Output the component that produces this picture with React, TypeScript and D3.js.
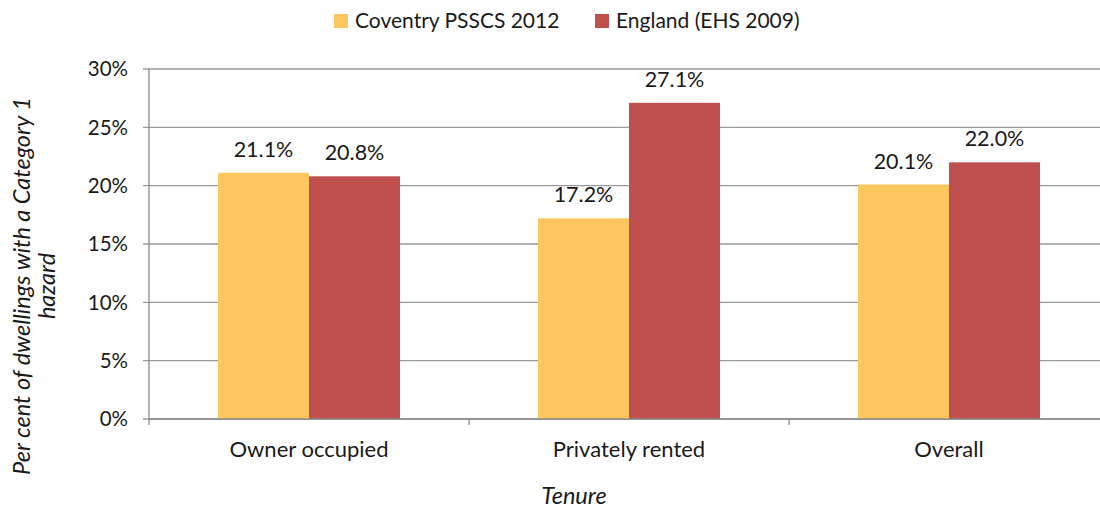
import React from "react";
import * as d3 from "d3";

const categories = ["Owner occupied", "Privately rented", "Overall"];
const seriesNames = ["Coventry PSSCS 2012", "England (EHS 2009)"];
const coventry = [21.1, 17.2, 20.1];
const england = [20.8, 27.1, 22.0];
const yTicks = [0, 5, 10, 15, 20, 25, 30];
const colors = ["#FDC65F", "#C0504D"];

const W = 1100;
const H = 509;
const left = 149;
const right = 1109;
const top = 69;
const bottom = 419;
const font = "Lato, 'Open Sans', sans-serif";
const textColor = "#1a1a1a";

export default function App() {
  const x = d3.scaleBand<string>().domain(categories).range([left, right]).paddingInner(0).paddingOuter(0);
  const y = d3.scaleLinear().domain([0, 30]).range([bottom, top]);
  const series = [coventry, england];
  const barW = 91;
  return (
    <div style={{ position: "absolute", left: 0, top: 0 }}>
      <svg width={W} height={H} style={{ display: "block", background: "#fff" }}>
        {yTicks.map((t) => (
          <line key={"g" + t} x1={left - 6} x2={right} y1={y(t)} y2={y(t)} stroke="#9a9a9a" strokeWidth={1.3} />
        ))}
        <line x1={left} x2={left} y1={top} y2={bottom} stroke="#8a8a8a" strokeWidth={1.3} />
        {series.map((vals, si) =>
          categories.map((c, ci) => {
            const cx = (x(c) as number) + x.bandwidth() / 2;
            const bx = cx - barW + si * barW;
            return (
              <rect key={si + "-" + ci} x={bx} y={y(vals[ci])} width={barW} height={y(0) - y(vals[ci])} fill={colors[si]} />
            );
          })
        )}
        <line x1={left} x2={right} y1={bottom} y2={bottom} stroke="#8a8a8a" strokeWidth={1.3} />
        {categories.map((c, ci) => (
          <line key={"xt" + ci} x1={x(c) as number} x2={x(c) as number} y1={bottom} y2={bottom + 6} stroke="#8a8a8a" strokeWidth={1.3} />
        ))}
        {series.map((vals, si) =>
          categories.map((c, ci) => {
            const cx = (x(c) as number) + x.bandwidth() / 2;
            const lx = cx - barW / 2 + si * barW;
            return (
              <text key={"v" + si + ci} x={lx} y={y(vals[ci]) - 16} textAnchor="middle" fontFamily={font} fontSize={21.5} fill={textColor}>
                {vals[ci].toFixed(1) + "%"}
              </text>
            );
          })
        )}
        {yTicks.map((t) => (
          <text key={"yl" + t} x={128} y={y(t)} dy="0.35em" textAnchor="end" fontFamily={font} fontSize={20.5} fill={textColor}>
            {t + "%"}
          </text>
        ))}
        {categories.map((c) => (
          <text key={"cl" + c} x={(x(c) as number) + x.bandwidth() / 2} y={457} textAnchor="middle" fontFamily={font} fontSize={22} fill={textColor}>
            {c}
          </text>
        ))}
        <text x={574} y={504} textAnchor="middle" fontFamily={font} fontSize={23.5} fontStyle="italic" fill={textColor}>
          Tenure
        </text>
        <g transform="translate(30,286) rotate(-90)">
          <text x={0} y={0} textAnchor="middle" fontFamily={font} fontSize={23.5} fontStyle="italic" fill={textColor}>
            Per cent of dwellings with a Category 1
          </text>
          <text x={0} y={25} textAnchor="middle" fontFamily={font} fontSize={23.5} fontStyle="italic" fill={textColor}>
            hazard
          </text>
        </g>
        {seriesNames.map((s, i) => {
          const lx = i === 0 ? 334 : 595;
          return (
            <g key={"lg" + i}>
              <rect x={lx} y={14} width={14} height={14} fill={colors[i]} />
              <text x={lx + 21} y={28} fontFamily={font} fontSize={21} fill={textColor}>
                {s}
              </text>
            </g>
          );
        })}
      </svg>
    </div>
  );
}
